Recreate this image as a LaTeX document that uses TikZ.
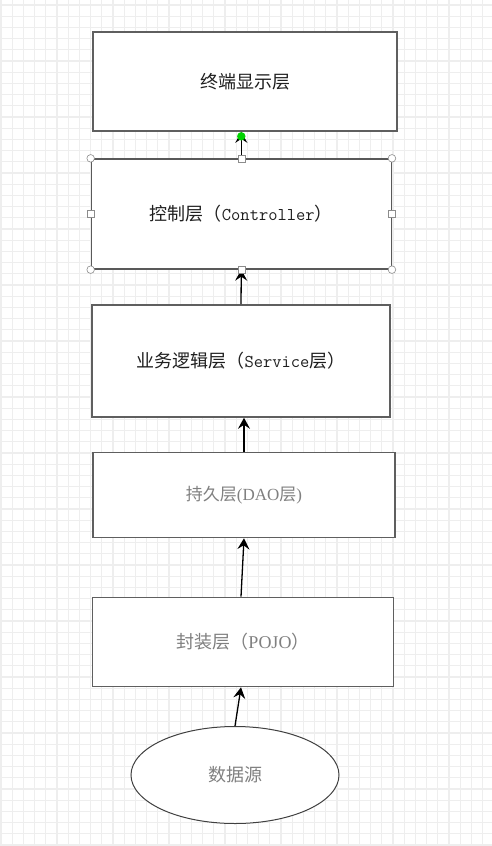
\documentclass[tikz,border=0pt]{standalone}
\usepackage{fontspec}
\newfontfamily\cjk{Noto Sans CJK SC}
\newfontfamily\rmlat{Liberation Serif}
\usepackage{tikz}
\usetikzlibrary{arrows.meta,shapes.geometric}
\definecolor{gridgray}{RGB}{238,238,238}
\definecolor{boxgray}{RGB}{95,95,95}
\definecolor{textgray}{RGB}{128,128,128}
\definecolor{handlegreen}{RGB}{0,210,0}
\tikzset{
  layerbox/.style={draw=boxgray, line width=1.6pt, fill=white, rectangle, inner sep=0pt},
  darktext/.style={text=black!88, font=\cjk\fontsize{18}{20}\selectfont},
  lighttext/.style={text=textgray, font=\cjk\fontsize{18}{20}\selectfont},
  uparrow/.style={-{Stealth[length=11pt,width=12pt,inset=4pt]}, line width=1.3pt, black},
  gridline/.style={gridgray, line width=1.3pt},
  handle/.style={draw=black!45, fill=white, line width=0.6pt}
}
\begin{document}
\begin{tikzpicture}[x=1pt,y=-1pt]
\useasboundingbox[fill=white] (0,0) rectangle (492,846);
% background grid
\foreach \i in {0,...,43} \draw[gridline] (1+\i*11.2,0) -- (1+\i*11.2,846);
\foreach \j in {0,...,75} \draw[gridline] (0,5+\j*11.2) -- (492,5+\j*11.2);
% layers
\node[layerbox, darktext, minimum width=304pt, minimum height=99pt] (top) at (245,81.5) {终端显示层};
\node[layerbox, darktext, line width=1.3pt, draw=black!65, minimum width=300pt, minimum height=110pt] (ctrl) at (241.3,214)
  {控制层（{\ttfamily Controller}）};
\node[layerbox, darktext, minimum width=298pt, minimum height=112pt] (service) at (241,361)
  {业务逻辑层（{\ttfamily Service}层）};
\node[layerbox, lighttext, font=\cjk\fontsize{17}{20}\selectfont, minimum width=302pt, minimum height=85pt] (dao) at (244,495)
  {持久层{\rmlat(DAO}层{\rmlat)}};
\node[layerbox, lighttext, minimum width=301pt, minimum height=89pt] (pojo) at (243,642)
  {封装层（{\rmlat POJO}）};
\node[ellipse, draw=black!75, line width=1pt, fill=white, lighttext, minimum width=208pt, minimum height=97pt] (src) at (235,775) {数据源};
% connectors
\draw[uparrow] (src.north) -- ([xshift=-2pt]pojo.south);
\draw[uparrow] ([xshift=-2pt]pojo.north) -- (dao.south);
\draw[uparrow] (dao.north) -- (dao.north |- service.south);
\draw[uparrow] (service.north) -- (ctrl.south);
\draw[uparrow] (ctrl.north) -- (ctrl.north |- top.south);
% selection handles
\foreach \a in {north west, north east, south west, south east}
  \draw[handle] (ctrl.\a) circle (3.8pt);
\foreach \a in {north, south, west, east}
  \draw[handle] ([shift={(-3.5pt,-3.5pt)}]ctrl.\a) rectangle +(7pt,7pt);
\fill[handlegreen] ([yshift=-4.5pt]ctrl.north |- top.south) circle (4.2pt);
\end{tikzpicture}
\end{document}
